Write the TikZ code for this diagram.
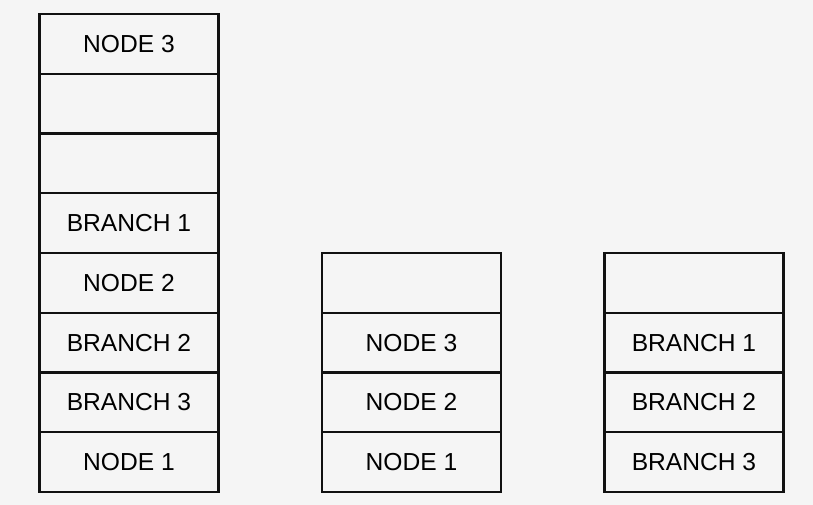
\documentclass[tikz,border=0pt]{standalone}
\usepackage{xcolor}
\usepackage{fontspec}
\setmainfont{Liberation Sans}
\usepackage{tikz}
\usetikzlibrary{positioning}
\definecolor{PaperGrey}{HTML}{F5F5F5}
\definecolor{EdgeBlack}{HTML}{111111}
\tikzset{
  % Base cell
  SC/.style={rectangle,minimum width=5.37cm,minimum height=1.7925cm,
             inner sep=0pt,outer sep=0pt,text centered,draw=EdgeBlack,
             line width=1.8pt,fill=PaperGrey,font=\fontsize{21}{24}\selectfont},
  % Stacked cell
  sc/.style={SC,below=0cm of #1}
}

\begin{document}
\begin{tikzpicture}[x=0.03cm,y=-0.03cm]
  \fill[PaperGrey] (0,0) rectangle (813,505);
  \useasboundingbox (0,0) rectangle (813,505);

  % left stack
  \node[SC,anchor=north] (l1) at (129,14) {NODE 3};
  \node[sc=l1] (l2) {};
  \node[sc=l2] (l3) {};
  \node[sc=l3] (l4) {BRANCH 1};
  \node[sc=l4] (l5) {NODE 2};
  \node[sc=l5] (l6) {BRANCH 2};
  \node[sc=l6] (l7) {BRANCH 3};
  \node[sc=l7] (l8) {NODE 1};

  % middle stack
  \node[SC,anchor=north] (m1) at (411.5,253) {};
  \node[sc=m1] (m2) {NODE 3};
  \node[sc=m2] (m3) {NODE 2};
  \node[sc=m3] (m4) {NODE 1};

  % right stack
  \node[SC,anchor=north] (r1) at (694,253) {};
  \node[sc=r1] (r2) {BRANCH 1};
  \node[sc=r2] (r3) {BRANCH 2};
  \node[sc=r3] (r4) {BRANCH 3};
\end{tikzpicture}
\end{document}
